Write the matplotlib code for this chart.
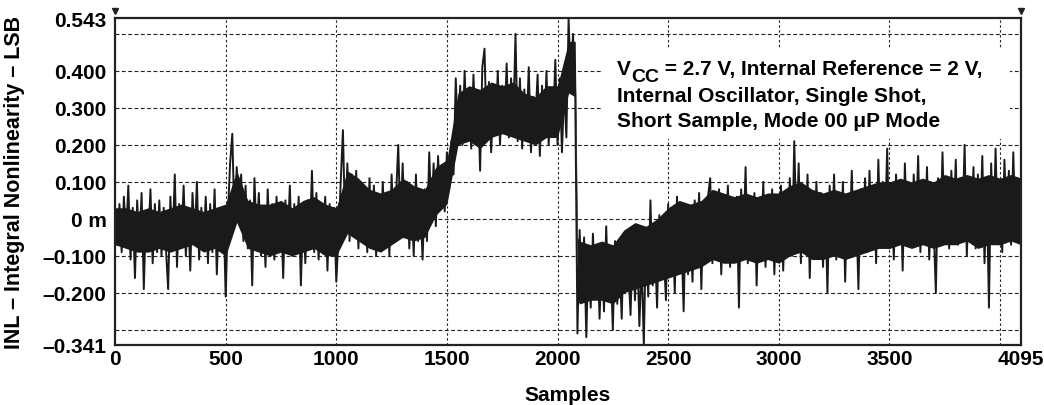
import numpy as np
import matplotlib
matplotlib.use('Agg')
import matplotlib.pyplot as plt
from matplotlib.patches import Rectangle

plt.rcParams['font.family'] = ['Liberation Sans', 'DejaVu Sans']
plt.rcParams['font.weight'] = 'bold'
plt.rcParams['axes.labelweight'] = 'bold'

# INL, one value every 10 samples (last one is sample 4095)
inl_lsb = [
    0.02, -0.07, 0.04, -0.09, 0.06, -0.05, 0.09, -0.11, 0.03, -0.16, 0.05, -0.08, 0.07, -0.19, 0.02, -0.06, 0.08, -0.12, 0.04, -0.09,
    0.05, -0.10, 0.03, -0.08, -0.19, 0.06, -0.07, 0.12, -0.13, 0.04, -0.06, 0.09, -0.10, 0.02, -0.14, 0.07, -0.05, 0.10, -0.11, 0.03,
    -0.07, 0.06, -0.12, 0.04, -0.09, 0.08, -0.15, 0.02, -0.06, 0.03, -0.21, 0.01, 0.15, 0.23, -0.02, 0.14, 0.00, 0.12, -0.06, 0.09,
    -0.08, 0.05, -0.18, 0.11, -0.05, 0.07, -0.10, 0.02, -0.13, 0.08, -0.06, 0.04, -0.11, 0.06, -0.09, 0.03, -0.16, 0.05, -0.07, 0.09,
    -0.10, 0.04, -0.07, 0.06, -0.18, 0.03, -0.12, 0.05, -0.06, 0.13, -0.09, 0.07, -0.11, 0.02, -0.05, 0.06, -0.14, 0.04, -0.08, 0.03,
    -0.17, -0.05, 0.10, 0.24, -0.03, 0.15, -0.06, 0.12, -0.04, 0.13, -0.08, 0.10, -0.06, 0.08, -0.09, 0.11, -0.05, 0.09, -0.10, 0.05,
    -0.08, 0.10, -0.04, 0.07, -0.10, 0.12, -0.03, 0.06, 0.20, -0.02, 0.15, -0.05, 0.10, -0.08, 0.07, -0.10, 0.12, -0.06, 0.05, -0.11,
    0.08, -0.06, 0.18, 0.01, 0.15, -0.02, 0.17, 0.04, 0.14, 0.02, 0.18, 0.08, 0.21, 0.12, 0.38, 0.22, 0.36, 0.20, 0.40, 0.24,
    0.35, 0.19, 0.39, 0.23, 0.34, 0.13, 0.41, 0.46, 0.21, 0.37, 0.18, 0.33, 0.24, 0.40, 0.20, 0.36, 0.25, 0.42, 0.22, 0.38,
    0.26, 0.50, 0.21, 0.38, 0.19, 0.35, 0.24, 0.41, 0.18, 0.33, 0.27, 0.39, 0.17, 0.36, 0.22, 0.40, 0.20, 0.34, 0.25, 0.43,
    0.20, 0.38, 0.18, 0.35, 0.22, 0.54, 0.36, 0.50, 0.34, -0.31, -0.03, -0.22, -0.05, -0.32, -0.08, -0.24, -0.04, -0.20, -0.07, -0.27,
    -0.09, -0.25, -0.02, -0.21, -0.12, -0.30, -0.06, -0.23, -0.10, -0.27, -0.04, -0.19, -0.13, -0.26, -0.05, -0.22, -0.08, -0.29, -0.11, -0.34,
    -0.03, -0.21, 0.05, -0.18, -0.07, -0.24, 0.01, -0.16, -0.09, -0.22, 0.04, -0.14, -0.02, -0.20, 0.06, -0.12, -0.05, -0.25, 0.03, -0.15,
    -0.01, -0.17, 0.05, -0.10, 0.07, -0.19, 0.02, -0.08, 0.06, 0.11, -0.12, 0.04, -0.09, 0.08, -0.15, 0.03, -0.07, 0.09, -0.13, 0.05,
    -0.11, 0.06, -0.24, 0.08, -0.07, 0.14, -0.12, 0.03, -0.09, 0.07, -0.18, 0.05, -0.06, 0.10, -0.13, 0.02, -0.10, 0.08, -0.15, 0.04,
    -0.08, 0.09, -0.14, 0.05, -0.06, 0.11, -0.10, 0.21, -0.04, 0.15, -0.12, 0.08, -0.07, 0.12, -0.16, 0.06, -0.09, 0.10, -0.05, 0.07,
    -0.13, 0.05, -0.20, 0.09, -0.06, 0.12, -0.11, 0.04, -0.08, 0.10, -0.17, 0.06, -0.05, 0.13, -0.10, 0.03, -0.19, 0.08, -0.07, 0.11,
    -0.09, 0.13, -0.04, 0.08, -0.12, 0.16, -0.06, 0.10, -0.03, 0.19, -0.08, 0.07, -0.11, 0.12, -0.02, 0.09, -0.14, 0.15, -0.05, 0.08,
    -0.07, 0.12, -0.03, 0.17, -0.09, 0.06, -0.05, 0.14, -0.11, 0.09, -0.02, -0.20, 0.11, -0.06, 0.18, -0.04, 0.10, -0.08, 0.13, -0.03,
    0.16, -0.07, 0.11, -0.02, 0.20, -0.10, 0.08, -0.04, 0.14, -0.08, 0.12, -0.03, 0.17, -0.12, 0.09, -0.24, 0.15, -0.05, 0.19, -0.06,
    0.10, -0.09, 0.16, -0.02, 0.13, -0.07, 0.18, -0.04, 0.11, -0.05,
    0.06,
]
samples = np.append(np.arange(0, 4091, 10), 4095)

# dense core of the noise band (upper / lower edge), read every 50 samples
core_samples = np.concatenate([np.arange(0, 2051, 50), [2080, 2090], np.arange(2100, 4051, 50), [4095]])
core_hi = [
    0.03, 0.03, 0.02, 0.03, 0.02, 0.03, 0.04, 0.03, 0.02, 0.03, 0.04, 0.13, 0.05, 0.04, 0.04, 0.05, 0.03, 0.05, 0.06, 0.04,
    0.03, 0.13, 0.11, 0.08, 0.07, 0.08, 0.11, 0.09, 0.08, 0.14, 0.16, 0.34, 0.36, 0.35, 0.37, 0.36, 0.37, 0.34, 0.33, 0.36,
    0.36, 0.48, 0.48, -0.05,
    -0.06, -0.07, -0.06, -0.07, -0.03, -0.01, -0.02, 0.00, 0.03, 0.05, 0.04, 0.05, 0.08, 0.07, 0.06, 0.07, 0.06, 0.07, 0.07, 0.09,
    0.10, 0.08, 0.07, 0.08, 0.07, 0.08, 0.09, 0.10, 0.10, 0.11, 0.10, 0.11, 0.10, 0.12, 0.11, 0.12, 0.11, 0.12, 0.11, 0.12,
    0.11,
]
core_lo = [
    -0.07, -0.08, -0.09, -0.09, -0.08, -0.09, -0.08, -0.07, -0.09, -0.08, -0.10, -0.01, -0.08, -0.09, -0.10, -0.09, -0.10, -0.09, -0.08, -0.10,
    -0.10, -0.04, -0.06, -0.08, -0.09, -0.07, -0.05, -0.06, -0.05, 0.01, 0.04, 0.20, 0.21, 0.19, 0.22, 0.23, 0.22, 0.21, 0.20, 0.22,
    0.22, 0.34, 0.33, -0.22,
    -0.23, -0.22, -0.22, -0.23, -0.20, -0.19, -0.18, -0.17, -0.16, -0.15, -0.14, -0.13, -0.11, -0.12, -0.12, -0.11, -0.12, -0.11, -0.12, -0.10,
    -0.09, -0.11, -0.11, -0.10, -0.11, -0.10, -0.09, -0.08, -0.08, -0.07, -0.08, -0.07, -0.08, -0.07, -0.07, -0.06, -0.08, -0.07, -0.07, -0.06,
    -0.07,
]

y_ticks = [-0.341, -0.2, -0.1, 0.0, 0.1, 0.2, 0.3, 0.4, 0.543]
y_labels = ['\u20130.341', '\u20130.200', '\u20130.100', '0 m', '0.100', '0.200', '0.300', '0.400', '0.543']
y_grid = [-0.3, -0.2, -0.1, 0.0, 0.1, 0.2, 0.3, 0.4, 0.5]
x_ticks = [0, 500, 1000, 1500, 2000, 2500, 3000, 3500, 4095]
x_grid = [500, 1000, 1500, 2000, 2500, 3000, 3500, 4000]

fig = plt.figure(figsize=(10.44, 4.06), dpi=100)
ax = fig.add_axes([0.1102, 0.1478, 0.8678, 0.8054])

for g in y_grid:
    ax.axhline(g, color='#222222', lw=0.8, ls=(0, (3.5, 2.2)), zorder=1)
for g in x_grid:
    ax.axvline(g, color='#222222', lw=0.8, ls=(0, (2.2, 2.2)), zorder=1)

ax.fill_between(core_samples, core_lo, core_hi, color='#1a1a1a', lw=0, zorder=2)
ax.plot(samples, inl_lsb, '-', color='#1a1a1a', lw=1.4, zorder=2)

ax.set_xlim(0, 4095)
ax.set_ylim(-0.341, 0.543)
ax.set_xticks(x_ticks)
ax.set_xticklabels([str(t) for t in x_ticks])
ax.set_yticks(y_ticks)
ax.set_yticklabels(y_labels)
ax.tick_params(length=0, labelsize=15)
ax.tick_params(axis='x', pad=3)
ax.tick_params(axis='y', pad=6)
for s in ax.spines.values():
    s.set_linewidth(1.6)
    s.set_color('#222222')

ax.set_xlabel('Samples', fontsize=15, labelpad=12)
ax.set_ylabel('INL \u2013 Integral Nonlinearity \u2013 LSB', fontsize=15.5, labelpad=13)

# end markers above the frame
ax.plot([0, 4095], [1.02, 1.02], 'v', color='#222222', ms=5,
        transform=ax.get_xaxis_transform(), clip_on=False)

# condition note on a white patch that hides the grid
ax.add_patch(Rectangle((0.536, 0.63), 0.452, 0.275, transform=ax.transAxes,
                       facecolor='white', edgecolor='none', zorder=3))
t_v = ax.text(0.554, 0.829, 'V', transform=ax.transAxes, fontsize=15, va='baseline', zorder=4)
t_cc = ax.annotate('CC', xy=(1, 0), xycoords=t_v, xytext=(0.3, -2.5), textcoords='offset points',
                   fontsize=14, va='baseline', ha='left', zorder=4)
ax.annotate(' = 2.7 V, Internal Reference = 2 V,', xy=(1, 0), xycoords=(t_cc, t_v),
            fontsize=15, va='bottom', ha='left', zorder=4)
ax.text(0.554, 0.747, 'Internal Oscillator, Single Shot,', transform=ax.transAxes,
        fontsize=15, va='baseline', zorder=4)
ax.text(0.554, 0.670, 'Short Sample, Mode 00 \u03bcP Mode', transform=ax.transAxes,
        fontsize=15, va='baseline', zorder=4)

plt.savefig('out.png', dpi=100)
